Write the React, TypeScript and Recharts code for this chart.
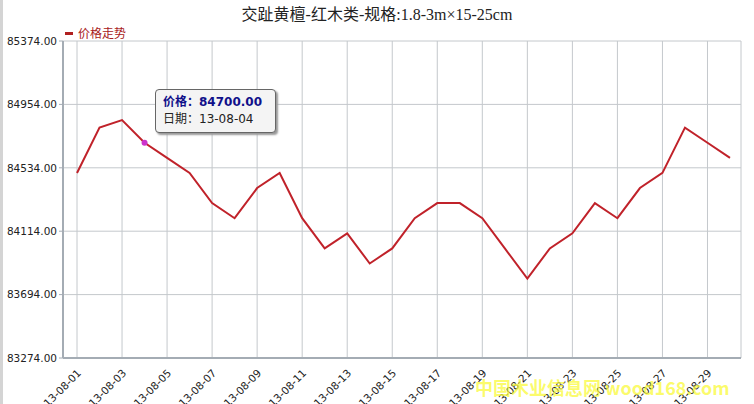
import React from "react";
import { LineChart, Line, XAxis, YAxis, CartesianGrid, Tooltip } from "recharts";

// 交趾黄檀 daily price, Aug 2013
const dates = [
  "13-08-01", "13-08-02", "13-08-03", "13-08-04", "13-08-05", "13-08-06",
  "13-08-07", "13-08-08", "13-08-09", "13-08-10", "13-08-11", "13-08-12",
  "13-08-13", "13-08-14", "13-08-15", "13-08-16", "13-08-17", "13-08-18",
  "13-08-19", "13-08-20", "13-08-21", "13-08-22", "13-08-23", "13-08-24",
  "13-08-25", "13-08-26", "13-08-27", "13-08-28", "13-08-29", "13-08-30",
];
const prices = [
  84500, 84800, 84850, 84700, 84600, 84500,
  84300, 84200, 84400, 84500, 84200, 84000,
  84100, 83900, 84000, 84200, 84300, 84300,
  84200, 84000, 83800, 84000, 84100, 84300,
  84200, 84400, 84500, 84800, 84700, 84600,
];
const xTicks = [
  "13-08-01", "13-08-03", "13-08-05", "13-08-07", "13-08-09", "13-08-11",
  "13-08-13", "13-08-15", "13-08-17", "13-08-19", "13-08-21", "13-08-23",
  "13-08-25", "13-08-27", "13-08-29",
];
const yTicks = [83274, 83694, 84114, 84534, 84954, 85374];

const data = dates.map((d, i) => ({ date: d, price: prices[i] }));

const tickFont = "'DejaVu Sans', Verdana, sans-serif";

const XTick = (props: any) => {
  const { x, y, payload } = props;
  return (
    <g transform={`translate(${x + 2},${y + 5})`}>
      <text
        textAnchor="end"
        transform="rotate(-45)"
        fontSize={10.5}
        fontFamily={tickFont}
        fill="#222"
        dy={4}
      >
        {payload.value}
      </text>
    </g>
  );
};

const PriceTip = (props: any) => {
  const { payload } = props;
  if (!payload || !payload.length) return null;
  const p = payload[0].payload;
  return (
    <div
      style={{
        width: 121,
        height: 44,
        boxSizing: "border-box",
        background: "#f4f4f4",
        border: "1px solid #666",
        borderRadius: 4,
        boxShadow: "2px 2px 2px #999",
        padding: "4px 0 0 7px",
        fontFamily: "'DejaVu Sans', 'Noto Sans CJK SC', sans-serif",
        fontSize: 12,
        lineHeight: "17px",
        whiteSpace: "nowrap",
      }}
    >
      <div style={{ color: "#10108a", fontWeight: "bold" }}>价格：{p.price.toFixed(2)}</div>
      <div style={{ color: "#222" }}>日期：{p.date}</div>
    </div>
  );
};

export default function App() {
  return (
    <div style={{ position: "absolute", left: 0, top: 0, width: 754, height: 404, background: "#fff", overflow: "hidden" }}>
      <div style={{ position: "absolute", left: 0, top: 0, width: 3, height: 404, background: "#d4d4d4" }} />
      <div
        style={{
          position: "absolute",
          left: 0,
          top: 1,
          width: 754,
          textAlign: "center",
          fontFamily: "'Liberation Serif', 'Noto Sans CJK SC', serif",
          fontSize: 16,
          color: "#222",
        }}
      >
        交趾黄檀-红木类-规格:1.8-3m×15-25cm
      </div>
      <div
        style={{
          position: "absolute",
          left: 65,
          top: 24,
          display: "flex",
          alignItems: "center",
          fontFamily: "'Noto Sans CJK SC', sans-serif",
          fontSize: 12,
          lineHeight: "18px",
          color: "#a82020",
        }}
      >
        <span style={{ display: "inline-block", width: 8, height: 3, background: "#b02020", marginRight: 5 }} />
        价格走势
      </div>
      <LineChart
        width={754}
        height={404}
        data={data}
        margin={{ top: 41, right: 13, bottom: 0, left: 0 }}
      >
        <CartesianGrid stroke="#c4c8cc" strokeWidth={1} />
        <XAxis
          dataKey="date"
          ticks={xTicks}
          interval={0}
          padding={{ left: 14, right: 11 }}
          height={46}
          tick={<XTick />}
          tickLine={false}
          axisLine={{ stroke: "#a4acb4", strokeWidth: 2 }}
        />
        <YAxis
          width={63}
          domain={[83274, 85374]}
          ticks={yTicks}
          interval={0}
          tickFormatter={(v: number) => v.toFixed(2)}
          tick={{ fontSize: 10.5, fontFamily: tickFont, fill: "#222" }}
          tickSize={4}
          tickMargin={2}
          tickLine={{ stroke: "#a4acb4" }}
          axisLine={{ stroke: "#a4acb4", strokeWidth: 2 }}
        />
        <Tooltip
          active
          defaultIndex={3}
          position={{ x: 155, y: 89 }}
          content={<PriceTip />}
          cursor={false}
          isAnimationActive={false}
        />
        <Line
          type="linear"
          dataKey="price"
          stroke="#c0222a"
          strokeWidth={2}
          dot={false}
          activeDot={{ r: 3, fill: "#cc33cc", stroke: "none" }}
          isAnimationActive={false}
        />
      </LineChart>
      <div
        style={{
          position: "absolute",
          left: 475,
          top: 374,
          fontFamily: "'Noto Sans CJK SC', sans-serif",
          fontWeight: "bold",
          fontSize: 18,
          color: "rgba(250,250,60,0.75)",
          whiteSpace: "nowrap",
          pointerEvents: "none",
        }}
      >
        中国木业信息网 wood168.com
      </div>
    </div>
  );
}
